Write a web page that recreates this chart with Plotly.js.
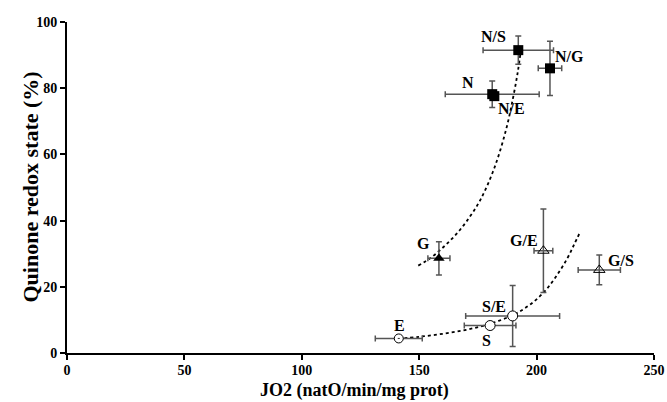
<!DOCTYPE html>
<html><head><meta charset="utf-8">
<script src="https://cdn.plot.ly/plotly-3.0.1.min.js"></script>
<style>html,body{margin:0;padding:0;background:#fff}#c{width:667px;height:402px}</style>
</head><body><div id="c"></div>
<script>
// Filled squares
const sqNames = ["N/S", "N/G", "N", "N/E"];
const sqX = [192.2, 205.7, 181.1, 182.0];
const sqY = [91.5, 86.0, 78.2, 77.6];
const sqXerr = [15, 5, 20, 1];
const sqYerr = [4.3, 8.2, 4.0, 1];
// Filled triangle
const gX = [158.4], gY = [28.6], gXerr = [4.7], gYerr = [5.0];
// Open triangles
const otNames = ["G/E", "G/S"];
const otX = [202.9, 226.7], otY = [30.9, 25.1];
const otXerr = [4, 9], otYerr = [12.6, 4.5];
// Open circles
const ocNames = ["S/E", "S"];
const ocX = [189.8, 180.2], ocY = [11.2, 8.3];
const ocXerr = [20, 11], ocYerr = [9.2, 1];
// E
const eX = [141.3], eY = [4.4], eXerr = [10], eYerr = [0.5];
// Fit curves
const upX = [149.6, 155, 160, 165, 170, 176, 182, 187, 190, 192, 193.3];
const upY = [26.4, 28.8, 31.8, 35.3, 39.6, 46.2, 55.9, 67.5, 77.2, 85.0, 91.5];
const loX = [141, 150, 160, 170, 180, 190, 197, 203, 208, 213, 216, 218.5];
const loY = [4.3, 4.9, 5.8, 7.0, 8.8, 11.5, 14.5, 18.3, 22.8, 28.5, 32.8, 36.5];
// Labels
const labText = ["N/S", "N/G", "N", "N/E", "G", "G/E", "G/S", "S/E", "S", "E"];
const labX = [181.5, 214.2, 170.9, 189.4, 151.8, 194.8, 235.8, 182.0, 178.7, 141.5];
const labY = [95.6, 89.5, 81.6, 73.9, 33.1, 34.1, 27.9, 14.2, 3.9, 8.4];
const xTicks = [0, 50, 100, 150, 200, 250];
const yTicks = [0, 20, 40, 60, 80, 100];
const xTitle = 'JO2 (natO/min/mg prot)';
const yTitle = 'Quinone redox state (%)';

const ebc = '#555';
function ex(arr){return {type:'data', array:arr, visible:true, color:ebc, thickness:1.5, width:3};}
const traces = [
 {x:upX, y:upY, mode:'lines', line:{color:'#000', width:1.8, dash:'dot', shape:'spline'}, hoverinfo:'skip'},
 {x:loX, y:loY, mode:'lines', line:{color:'#000', width:1.8, dash:'dot', shape:'spline'}, hoverinfo:'skip'},
 {x:sqX, y:sqY, mode:'markers', marker:{symbol:'square', size:10, color:'#000'}, error_x:ex(sqXerr), error_y:ex(sqYerr), text:sqNames},
 {x:gX, y:gY, mode:'markers', marker:{symbol:'triangle-up', size:10, color:'#000'}, error_x:ex(gXerr), error_y:ex(gYerr)},
 {x:otX, y:otY, mode:'markers', marker:{symbol:'triangle-up-open', size:10, color:'#000', line:{width:1}}, error_x:ex(otXerr), error_y:ex(otYerr), text:otNames},
 {x:ocX, y:ocY, mode:'markers', marker:{symbol:'circle', size:10, color:'#fff', line:{color:'#000', width:1}}, error_x:ex(ocXerr), error_y:ex(ocYerr), text:ocNames},
 {x:eX, y:eY, mode:'markers', marker:{symbol:'circle-dot', size:9, color:'#fff', line:{color:'#000', width:1}}, error_x:ex(eXerr), error_y:ex(eYerr)}
];
const font = {family:'"Liberation Serif", "Times New Roman", serif', color:'#000'};
const F = s => Object.assign({}, font, {size:s});
const annotations = labText.map((t,i)=>({x:labX[i], y:labY[i], xref:'x', yref:'y', text:'<b>'+t+'</b>', showarrow:false, font:F(16)}));
annotations.push({xref:'paper', yref:'paper', x:0.49, y:-0.148, xanchor:'center', yanchor:'bottom', borderpad:0, text:'<b>'+xTitle+'</b>', showarrow:false, font:F(18)});
annotations.push({xref:'paper', yref:'paper', x:-0.063, y:0.5, xanchor:'center', yanchor:'middle', textangle:-90, text:'<b>'+yTitle+'</b>', showarrow:false, font:F(22)});
const axisCommon = {showgrid:false, zeroline:false, showline:true, linecolor:'#000', linewidth:2, ticks:'outside', ticklen:5, tickwidth:2, tickcolor:'#000', tickfont:F(14)};
const layout = {
 width:667, height:402, margin:{l:67, r:13, t:22, b:49},
 paper_bgcolor:'#fff', plot_bgcolor:'#fff', showlegend:false,
 font:font,
 xaxis:Object.assign({range:[0,250], tickvals:xTicks, ticktext:xTicks.map(v=>'<b>'+v+'</b>'), ticklabelstandoff:-2}, axisCommon),
 yaxis:Object.assign({range:[0,100], tickvals:yTicks, ticktext:yTicks.map(v=>'<b>'+v+'</b>')}, axisCommon),
 annotations:annotations
};
Plotly.newPlot('c', traces, layout, {displayModeBar:false, staticPlot:true});
</script></body></html>
